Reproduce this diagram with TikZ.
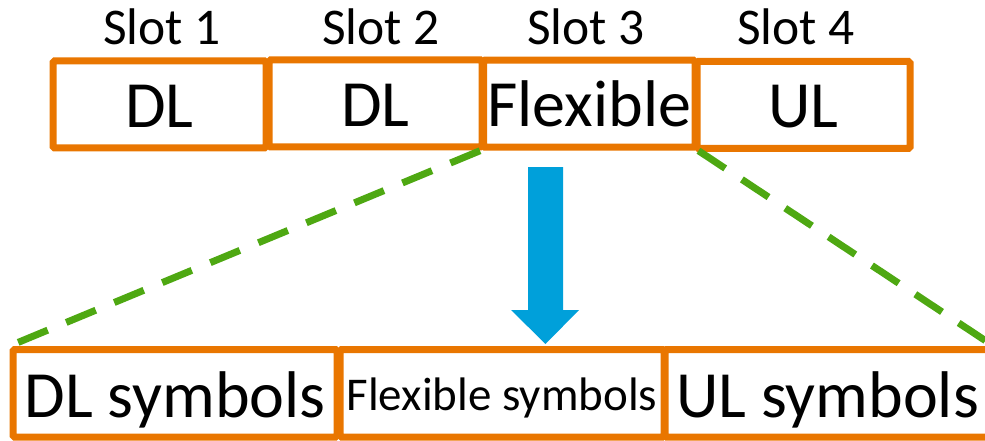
\documentclass[tikz,border=0pt]{standalone}
\usepackage{fontspec}
\setmainfont{Carlito}
\definecolor{slotorange}{RGB}{233,118,0}
\definecolor{zoomgreen}{RGB}{78,168,18}
\definecolor{arrowblue}{RGB}{0,160,218}
\begin{document}
\begin{tikzpicture}[x=1pt,y=-1pt,
  slotbox/.style={draw=slotorange, line width=7pt, rounded corners=1.5pt,
    inner sep=0pt, minimum width=213pt, minimum height=87pt,
    text height=46pt, text depth=0pt,
    font=\fontsize{66}{79}\selectfont},
  symbox/.style={draw=slotorange, line width=7pt, rounded corners=1.5pt,
    inner sep=0pt, minimum width=324pt, minimum height=87.5pt,
    text height=48pt, text depth=0pt,
    font=\fontsize{66}{79}\selectfont},
  slotlabel/.style={anchor=base, inner sep=0pt,
    font=\fontsize{51.5}{62}\selectfont},
  zoomline/.style={draw=zoomgreen, line width=7pt, dash pattern=on 32pt off 20pt}
]
\useasboundingbox (0,0) rectangle (985,441);

% slot labels
\node[slotlabel] (l1) at (162,45) {Slot 1};
\node[slotlabel] (l2) at (381,45) {Slot 2};
\node[slotlabel] (l3) at (586,45) {Slot 3};
\node[slotlabel] (l4) at (796,45) {Slot 4};

% slots of the frame
\node[slotbox] (s1) at (159.5,104.5) {DL};
\node[slotbox] (s2) at (375.5,103.5) {DL};
\node[slotbox, minimum width=211.5pt] (s3) at (589.25,103.75) {Flexible};
\node[slotbox] (s4) at (803.5,105) {UL};

% symbols inside the flexible slot
\node[symbox] (b1) at (175,393.25) {DL symbols};
\node[symbox, text height=34pt,
  font=\fontsize{47}{56}\selectfont] (b2) at (502,393.25) {Flexible symbols};
\node[symbox, minimum width=325pt] (b3) at (827.5,393.25) {UL symbols};

% block arrow from the flexible slot down to its symbols
\fill[arrowblue] (528,167) -- (563,167) -- (563,310) -- (579,310)
  -- (545.5,344) -- (511,310) -- (528,310) -- cycle;

% zoom lines
\draw[zoomline] (s3.south west) -- (b1.north west);
\draw[zoomline] (s3.south east) -- (b3.north east);
\end{tikzpicture}
\end{document}
